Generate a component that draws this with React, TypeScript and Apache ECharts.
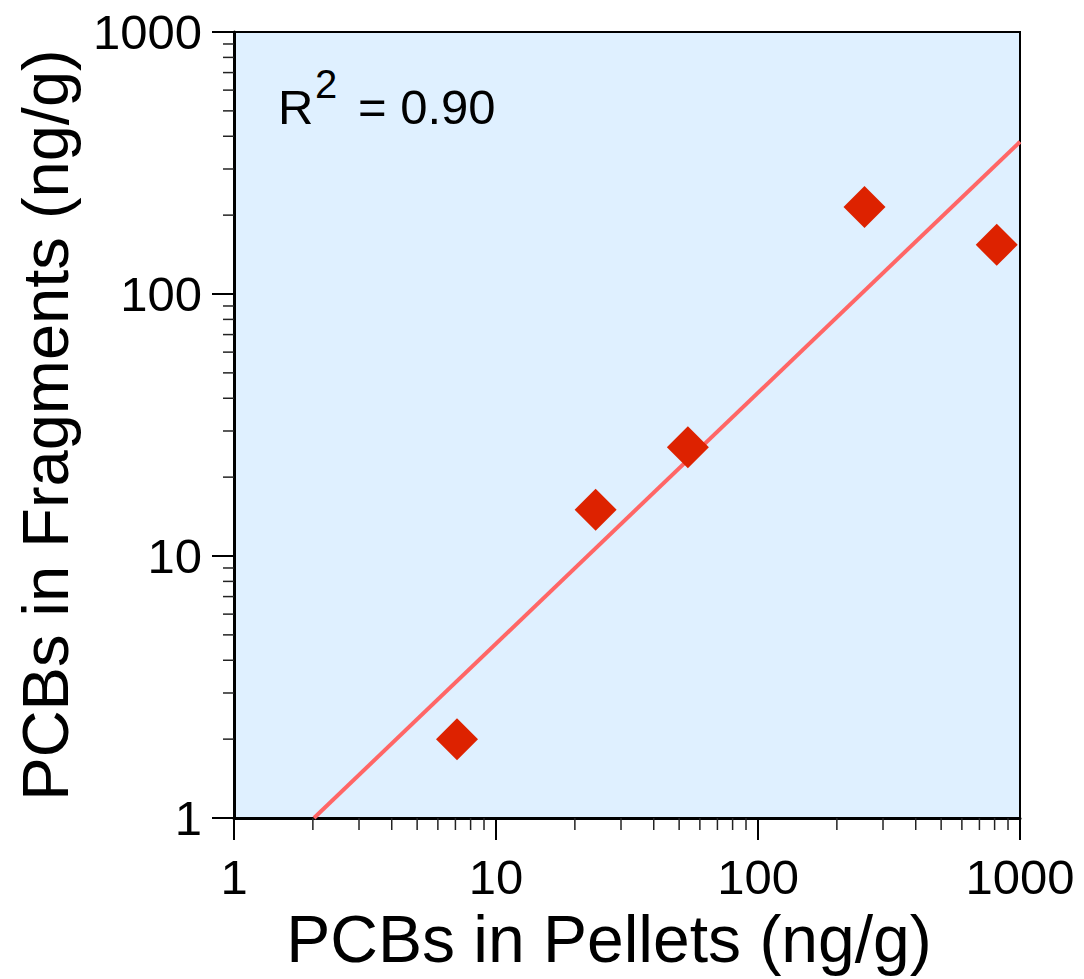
import React, { useEffect, useRef } from "react";
import * as echarts from "echarts";

const pelletValues = [7.1, 24, 54, 255, 815];
const fragmentValues = [2.0, 15, 26, 215, 154];
const trendX = [2.02, 1000];
const trendY = [1, 381];
const minorTickValues = [2, 3, 4, 5, 6, 7, 8, 9, 20, 30, 40, 50, 60, 70, 80, 90, 200, 300, 400, 500, 600, 700, 800, 900];
const xTitle = "PCBs in Pellets (ng/g)";
const yTitle = "PCBs in Fragments (ng/g)";
const rText = "R";
const rSup = "2";
const rValue = "= 0.90";

const FONT = "'Liberation Sans', Arial, sans-serif";

export default function App() {
  const ref = useRef<HTMLDivElement>(null);
  useEffect(() => {
    if (!ref.current) return;
    const chart = echarts.init(ref.current, null, { renderer: "svg" });
    const scatterData = pelletValues.map((v, i) => [v, fragmentValues[i]]);
    const trendData = trendX.map((v, i) => [v, trendY[i]]);
    const xMinor = minorTickValues.map((v) => [v, 1]);
    const yMinor = minorTickValues.map((v) => [1, v]);
    const axisCommon = {
      type: "log" as const,
      logBase: 10,
      min: 1,
      max: 1000,
      splitLine: { show: false },
      minorTick: { show: false },
      axisLine: { show: true, lineStyle: { color: "#000", width: 3 } },
      axisTick: { show: true, inside: false, length: 22, lineStyle: { color: "#000", width: 2 } },
      nameLocation: "middle" as const,
    };
    chart.setOption({
      animation: false,
      backgroundColor: "#ffffff",
      grid: {
        left: 234,
        top: 32,
        width: 786,
        height: 786,
        show: true,
        backgroundColor: "#DFF0FF",
        borderColor: "#000",
        borderWidth: 2,
        containLabel: false,
        outerBoundsMode: "none",
      },
      xAxis: {
        ...axisCommon,
        name: xTitle,
        nameGap: 86,
        nameTextStyle: { fontFamily: FONT, fontSize: 66, color: "#000", padding: [0, 36, 0, 0] },
        axisLabel: {
          fontFamily: FONT,
          fontSize: 49,
          color: "#000",
          margin: 34,
          formatter: (v: number) => String(Math.round(v)),
        },
      },
      yAxis: {
        ...axisCommon,
        name: yTitle,
        nameGap: 156,
        nameTextStyle: { fontFamily: FONT, fontSize: 65, color: "#000" },
        axisLabel: {
          fontFamily: FONT,
          fontSize: 49,
          color: "#000",
          margin: 32,
          formatter: (v: number) => String(Math.round(v)),
        },
      },
      graphic: [
        { type: "text", left: 278, top: 82, style: { text: rText, font: `49px ${FONT}`, fill: "#000" } },
        { type: "text", left: 315, top: 64, style: { text: rSup, font: `40px ${FONT}`, fill: "#000" } },
        { type: "text", left: 358, top: 82, style: { text: rValue, font: `49px ${FONT}`, fill: "#000" } },
      ],
      series: [
        {
          type: "line",
          data: trendData,
          showSymbol: false,
          symbol: "none",
          lineStyle: { color: "#FF6666", width: 4 },
          silent: true,
          z: 2,
        },
        {
          type: "scatter",
          data: scatterData,
          symbol: "diamond",
          symbolSize: 42,
          itemStyle: { color: "#DD2200", opacity: 1 },
          z: 3,
        },
        {
          type: "custom",
          data: xMinor,
          clip: false,
          silent: true,
          renderItem: (params: any, api: any) => {
            const p = api.coord([api.value(0), api.value(1)]);
            return {
              type: "line",
              shape: { x1: p[0], y1: p[1], x2: p[0], y2: p[1] + 12 },
              style: { stroke: "#222", lineWidth: 1.5 },
            };
          },
          z: 4,
        },
        {
          type: "custom",
          data: yMinor,
          clip: false,
          silent: true,
          renderItem: (params: any, api: any) => {
            const p = api.coord([api.value(0), api.value(1)]);
            return {
              type: "line",
              shape: { x1: p[0], y1: p[1], x2: p[0] - 11, y2: p[1] },
              style: { stroke: "#222", lineWidth: 1.5 },
            };
          },
          z: 4,
        },
      ],
    });
    return () => chart.dispose();
  }, []);
  return (
    <div
      ref={ref}
      style={{ position: "absolute", left: 0, top: 0, width: 1084, height: 979 }}
    />
  );
}
